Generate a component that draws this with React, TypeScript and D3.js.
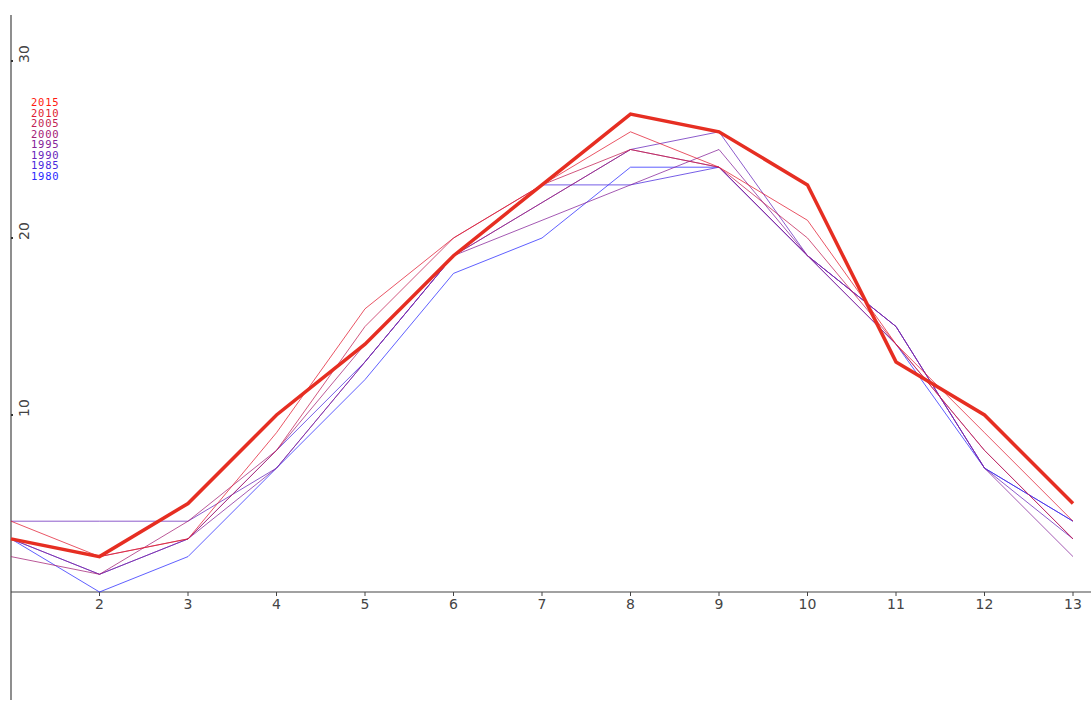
import React from 'react';
import * as d3 from 'd3';

const months = [1, 2, 3, 4, 5, 6, 7, 8, 9, 10, 11, 12, 13];
const xTickLabels = ['2', '3', '4', '5', '6', '7', '8', '9', '10', '11', '12', '13'];
const yTickLabels = ['10', '20', '30'];

const years = ['2015', '2010', '2005', '2000', '1995', '1990', '1985', '1980'];

const temps2015 = [3, 2, 5, 10, 14, 19, 23, 27, 26, 23, 13, 10, 5];
const temps2010 = [4, 2, 3, 9, 16, 20, 23, 26, 24, 21, 14, 9, 4];
const temps2005 = [3, 2, 3, 8, 15, 20, 23, 25, 24, 20, 14, 8, 3];
const temps2000 = [2, 1, 4, 8, 14, 19, 22, 25, 24, 19, 14, 8, 3];
const temps1995 = [3, 1, 3, 7, 13, 19, 21, 23, 25, 19, 15, 7, 2];
const temps1990 = [4, 4, 4, 7, 13, 19, 22, 25, 26, 19, 15, 7, 3];
const temps1985 = [3, 1, 3, 8, 13, 19, 23, 23, 24, 19, 15, 7, 4];
const temps1980 = [3, 0, 2, 7, 12, 18, 20, 24, 24, 19, 14, 7, 4];

const seriesValues = [temps2015, temps2010, temps2005, temps2000, temps1995, temps1990, temps1985, temps1980];

const App = () => {
    const svgRef = React.useRef(null);

    const width = 1091;
    const height = 701;

    React.useEffect(() => {
        const svg = d3.select(svgRef.current);
        svg.selectAll('*').remove();

        const x = d3.scaleLinear().domain([1, 13]).range([11, 1073]);
        const y = d3.scaleLinear().domain([0, 30]).range([592, 61]);

        // red (latest) -> blue (oldest)
        const color = (i) => d3.interpolateRgb('#ff1a10', '#2a2aff')(i / (years.length - 1));

        // axes
        svg.append('line')
            .attr('x1', x(1)).attr('x2', x(1))
            .attr('y1', y(32.6)).attr('y2', y(-6.1))
            .attr('stroke', '#444').attr('stroke-width', 1.2);
        svg.append('line')
            .attr('x1', x(1)).attr('x2', width)
            .attr('y1', y(0)).attr('y2', y(0))
            .attr('stroke', '#444').attr('stroke-width', 1.2);

        // x ticks
        const xt = svg.append('g');
        xTickLabels.forEach((t) => {
            const v = +t;
            xt.append('line')
                .attr('x1', x(v)).attr('x2', x(v))
                .attr('y1', y(0)).attr('y2', y(0) + 4)
                .attr('stroke', '#444');
            xt.append('text')
                .attr('x', x(v)).attr('y', y(0) + 17)
                .attr('text-anchor', 'middle')
                .style('font-family', 'DejaVu Sans, sans-serif')
                .style('font-size', '14px')
                .attr('fill', '#444')
                .text(t);
        });

        // y ticks (rotated labels)
        const yt = svg.append('g');
        yTickLabels.forEach((t) => {
            const v = +t;
            yt.append('rect')
                .attr('x', x(1)).attr('y', y(v) - 1)
                .attr('width', 2).attr('height', 2)
                .attr('fill', '#333');
            yt.append('text')
                .attr('transform', `translate(${x(1) + 18},${y(v) + 2}) rotate(-90)`)
                .attr('text-anchor', 'start')
                .style('font-family', 'DejaVu Sans, sans-serif')
                .style('font-size', '14px')
                .attr('fill', '#444')
                .text(t);
        });

        const line = d3.line()
            .x((d, i) => x(months[i]))
            .y((d) => y(d));

        // draw oldest first so 2015 sits on top
        for (let i = seriesValues.length - 1; i >= 0; i--) {
            svg.append('path')
                .datum(seriesValues[i])
                .attr('d', line)
                .attr('fill', 'none')
                .attr('stroke', i === 0 ? '#e62e22' : color(i))
                .attr('stroke-width', i === 0 ? 3.5 : 1)
                .attr('stroke-opacity', i === 0 ? 1 : 0.75);
        }

        // legend
        const lg = svg.append('g');
        years.forEach((yr, i) => {
            lg.append('text')
                .attr('x', 31).attr('y', 106 + i * 10.55)
                .style('font-family', 'DejaVu Sans Mono, monospace')
                .style('font-size', '10.5px')
                .style('letter-spacing', '0.8px')
                .attr('fill', color(i))
                .text(yr);
        });
    // eslint-disable-next-line react-hooks/exhaustive-deps
    }, []);

    return (
        <svg
            ref={svgRef}
            width={width}
            height={height}
            style={{ position: 'absolute', left: 0, top: 0, background: '#fff' }}
        />
    );
};

export default App;
